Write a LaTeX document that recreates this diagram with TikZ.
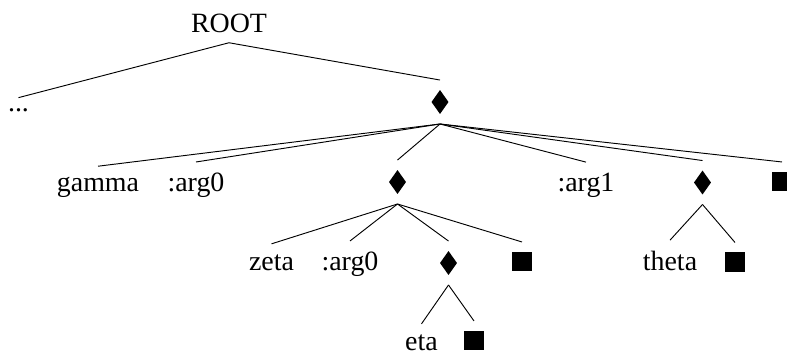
\documentclass[tikz,border=0pt]{standalone}
\usepackage{fontspec}
\setmainfont{Liberation Serif}
\begin{document}
\begin{tikzpicture}[x=0.43pt, y=-0.43pt,
  every node/.style={font=\fontsize{12}{14}\selectfont},
  word/.style={anchor=base, inner sep=4.3pt},
  dmd/.style={rectangle, inner sep=0pt, minimum width=7.3pt, minimum height=10.3pt, outer sep=4.3pt,
    path picture={\fill (path picture bounding box.north) -- (path picture bounding box.east)
      -- (path picture bounding box.south) -- (path picture bounding box.west) -- cycle;}},
  blk/.style={rectangle, fill, inner sep=0pt, minimum size=8.2pt, outer sep=4.3pt}]
\useasboundingbox (0, 0) rectangle (787, 356);

\node[word] (root) at (229, 32) {ROOT};
\node[word] (dots) at (18.5, 111) {...};
\node[dmd] (top) at (440, 102) {};

\node[word] (gamma) at (98, 191) {gamma};
\node[word] (arga) at (196, 191) {:arg0};
\node[dmd] (mid) at (397.5, 182) {};
\node[word] (argb) at (586, 191) {:arg1};
\node[dmd] (right) at (702.5, 182.5) {};
\node[blk] (endtop) at (782, 181.5) {};

\node[word] (zeta) at (271.5, 270) {zeta};
\node[word] (argc) at (350, 270) {:arg0};
\node[dmd] (low) at (448.5, 263) {};
\node[blk] (endmid) at (522, 261.5) {};

\node[word] (theta) at (670, 270) {theta};
\node[blk] (endright) at (735, 262) {};

\node[word] (eta) at (421.5, 350) {eta};
\node[blk] (endlow) at (474, 340.5) {};

\path (root.south) edge (dots.north);
\path (root.south) edge (top.north);

\path (top.south) edge (gamma.north);
\path (top.south) edge (arga.north);
\path (top.south) edge (mid.north);
\path (top.south) edge (argb.north);
\path (top.south) edge (right.north);
\path (top.south) edge (endtop.north);

\path (mid.south) edge (zeta.north);
\path (mid.south) edge (argc.north);
\path (mid.south) edge (low.north);
\path (mid.south) edge (endmid.north);

\path (low.south) edge (eta.north);
\path (low.south) edge (endlow.north);

\path (right.south) edge (theta.north);
\path (right.south) edge (endright.north);
\end{tikzpicture}
\end{document}
